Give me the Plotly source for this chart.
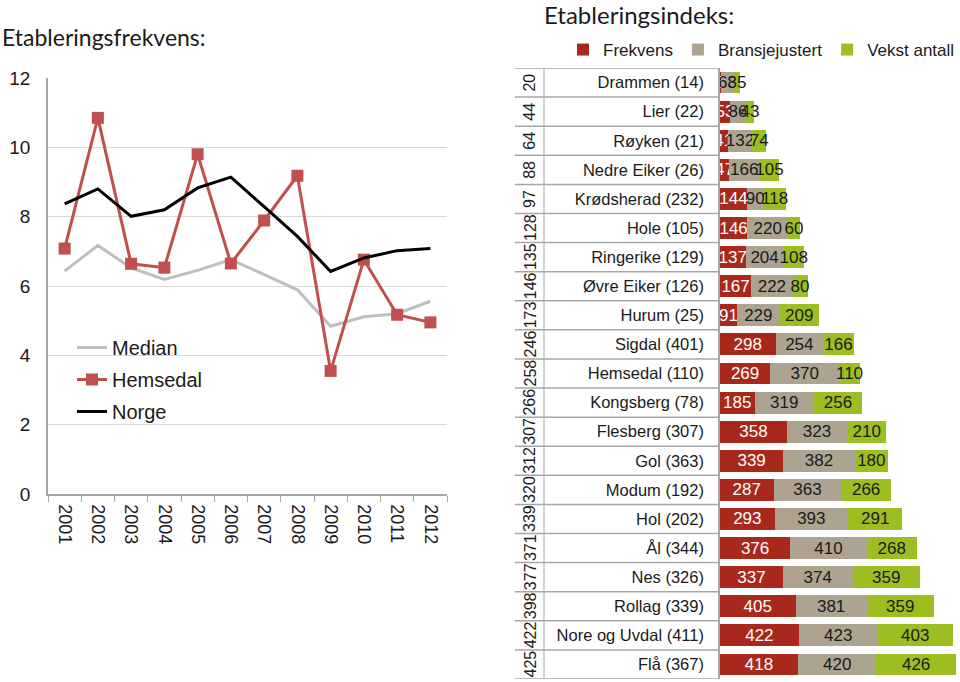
import plotly.graph_objects as go

# ---------------- data ----------------
years = ["2001", "2002", "2003", "2004", "2005", "2006", "2007", "2008", "2009", "2010", "2011", "2012"]
median = [6.43, 7.17, 6.52, 6.19, 6.45, 6.76, 6.33, 5.89, 4.84, 5.11, 5.20, 5.56]
hemsedal = [7.08, 10.85, 6.64, 6.53, 9.80, 6.65, 7.89, 9.18, 3.55, 6.76, 5.17, 4.95]
norge = [8.37, 8.80, 8.01, 8.20, 8.83, 9.14, 8.29, 7.43, 6.42, 6.81, 7.02, 7.08]

kommuner = ["Drammen (14)", "Lier (22)", "Røyken (21)", "Nedre Eiker (26)", "Krødsherad (232)",
            "Hole (105)", "Ringerike (129)", "Øvre Eiker (126)", "Hurum (25)", "Sigdal (401)",
            "Hemsedal (110)", "Kongsberg (78)", "Flesberg (307)", "Gol (363)", "Modum (192)",
            "Hol (202)", "Ål (344)", "Nes (326)", "Rollag (339)", "Nore og Uvdal (411)", "Flå (367)"]
frekvens = [6, 53, 41, 47, 144, 146, 137, 167, 91, 298, 269, 185, 358, 339, 287, 293, 376, 337, 405, 422, 418]
bransjejustert = [68, 86, 132, 166, 90, 220, 204, 222, 229, 254, 370, 319, 323, 382, 363, 393, 410, 374, 381, 423, 420]
vekst_antall = [35, 43, 74, 105, 118, 60, 108, 80, 209, 166, 110, 256, 210, 180, 266, 291, 268, 359, 359, 403, 426]
indeks = [20, 44, 64, 88, 97, 128, 135, 146, 173, 246, 258, 266, 307, 312, 320, 339, 371, 377, 398, 422, 425]

# ---------------- figure ----------------
W, H = 960, 682
FONT = "Liberation Sans, Arial, sans-serif"
TXT = "#1a1a1a"

def px_x(p):
    return p / W

def px_y(p):
    return 1 - p / H

fig = go.Figure()

# left chart
fig.add_trace(go.Scatter(x=years, y=median, name="Median", mode="lines",
                         line=dict(color="#BFBFBF", width=3), xaxis="x", yaxis="y",
                         legend="legend", legendgroup="a"))
fig.add_trace(go.Scatter(x=years, y=hemsedal, name="Hemsedal", mode="lines+markers",
                         line=dict(color="#C0504D", width=3),
                         marker=dict(symbol="square", size=12, color="#C0504D"),
                         xaxis="x", yaxis="y", legend="legend", legendgroup="b"))
fig.add_trace(go.Scatter(x=years, y=norge, name="Norge", mode="lines",
                         line=dict(color="#000000", width=3), xaxis="x", yaxis="y",
                         legend="legend", legendgroup="c"))

# right chart
bar_specs = [
    ("Frekvens", frekvens, "#A8281C", "white"),
    ("Bransjejustert", bransjejustert, "#ADA391", TXT),
    ("Vekst antall", vekst_antall, "#9DBE21", TXT),
]
for name, vals, col, tcol in bar_specs:
    fig.add_trace(go.Bar(
        y=kommuner, x=vals, name=name, orientation="h",
        marker=dict(color=col, line=dict(width=0)),
        text=[str(v) for v in vals], textposition="inside", insidetextanchor="middle",
        textangle=0, insidetextfont=dict(color=tcol, size=17, family=FONT),
        cliponaxis=False, constraintext="none",
        xaxis="x2", yaxis="y2", legend="legend2", hoverinfo="skip",
    ))

shapes = []
for k in range(len(kommuner) + 1):
    shapes.append(dict(type="line", xref="paper", yref="y2",
                       x0=px_x(515), x1=px_x(720), y0=k - 0.5, y1=k - 0.5,
                       line=dict(color="#A6A6A6", width=1.5)))
shapes.append(dict(type="line", xref="paper", yref="y2",
                   x0=px_x(544), x1=px_x(544), y0=-0.5, y1=len(kommuner) - 0.5,
                   line=dict(color="#A6A6A6", width=1)))

annotations = [
    dict(text="Etableringsfrekvens:", xref="paper", yref="paper", x=0, y=px_y(37),
         xanchor="left", yanchor="middle", showarrow=False,
         font=dict(family="Lato, " + FONT, size=23, color=TXT)),
    dict(text="Etableringsindeks:", xref="paper", yref="paper", x=px_x(542), y=px_y(15),
         xanchor="left", yanchor="middle", showarrow=False,
         font=dict(family="Lato, " + FONT, size=24, color=TXT)),
]
for name, v in zip(kommuner, indeks):
    annotations.append(dict(text=str(v), xref="paper", yref="y2", x=px_x(530), y=name,
                            xanchor="center", yanchor="middle", textangle=-90, showarrow=False,
                            font=dict(family=FONT, size=16, color=TXT)))

fig.update_layout(
    width=W, height=H, autosize=False,
    margin=dict(l=0, r=0, t=0, b=0, pad=0, autoexpand=False),
    paper_bgcolor="white", plot_bgcolor="white",
    font=dict(family=FONT, color=TXT),
    barmode="stack", bargap=0.25,
    uniformtext=dict(minsize=17, mode="show"),
    showlegend=True,
    xaxis=dict(domain=[px_x(48), px_x(447)], anchor="y", type="category", automargin=False,
               range=[-0.5, 11.5], tickson="boundaries", ticks="outside", ticklen=6,
               tickcolor="#A6A6A6", showline=True, linecolor="#A6A6A6", linewidth=1.5,
               showgrid=False, tickangle=90, ticklabelstandoff=5,
               tickfont=dict(size=18, color=TXT)),
    yaxis=dict(domain=[px_y(494), px_y(78)], anchor="x", range=[0, 12], dtick=2, automargin=False,
               showgrid=True, gridcolor="#D9D9D9", gridwidth=1, zeroline=False,
               showline=True, linecolor="#A6A6A6", linewidth=1.5, ticks="",
               ticklabelstandoff=12, tickfont=dict(size=19, color=TXT)),
    xaxis2=dict(domain=[px_x(720), 1.0], anchor="y2", range=[0, 1286], automargin=False,
                visible=False, showgrid=False, zeroline=False),
    yaxis2=dict(domain=[px_y(679), px_y(68)], anchor="x2", type="category", automargin=False,
                range=[len(kommuner) - 0.5, -0.5], showgrid=False, zeroline=False,
                showline=True, linecolor="#A6A6A6", linewidth=1.5, ticks="",
                ticklabelstandoff=11, tickfont=dict(size=16.5, color=TXT)),
    legend=dict(x=px_x(72), y=px_y(328), xanchor="left", yanchor="top",
                bgcolor="rgba(0,0,0,0)", font=dict(size=20, color=TXT),
                itemwidth=30, tracegroupgap=3, traceorder="grouped"),
    legend2=dict(orientation="h", x=px_x(563), y=px_y(50), xanchor="left", yanchor="middle",
                 bgcolor="rgba(0,0,0,0)", font=dict(size=17, color=TXT),
                 traceorder="normal", itemwidth=30),
    shapes=shapes,
    annotations=annotations,
)

fig.write_html("out.html", config={"displayModeBar": False},
               post_script="document.body.style.margin='0px';")
